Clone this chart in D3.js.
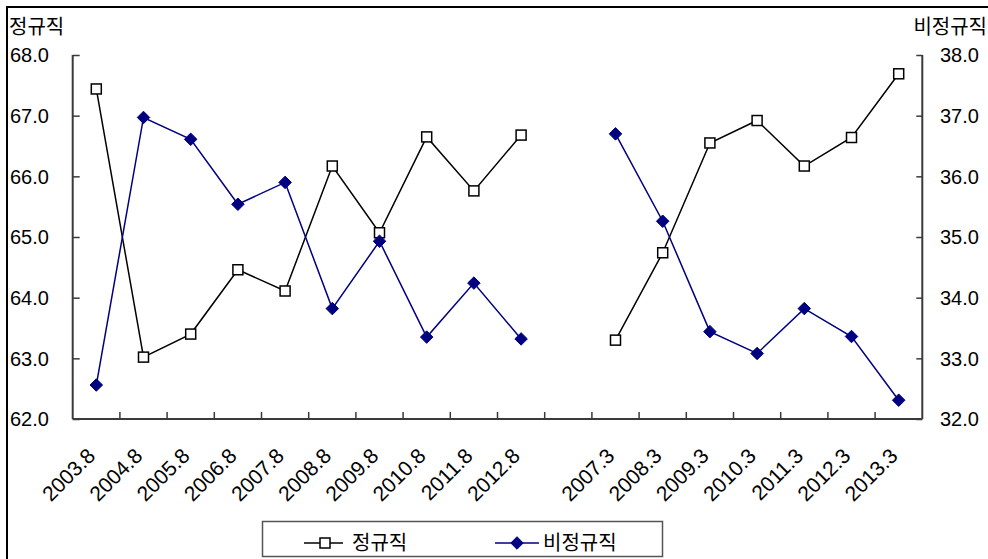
<!DOCTYPE html>
<html>
<head>
<meta charset="utf-8">
<script src="https://cdn.jsdelivr.net/npm/d3@7"></script>
<style>
  html, body { margin: 0; padding: 0; background: #fff; }
  svg { display: block; }
  text { font-family: "Liberation Sans", Arial, "Noto Sans CJK KR", sans-serif; fill: #000; }
  .kr { font-family: "Noto Sans CJK KR", "Liberation Sans", sans-serif; }
</style>
</head>
<body>
<svg id="chart" width="988" height="559"></svg>
<script>
// Survey periods: August series, a blank slot, then the March series
const categories = ["2003.8", "2004.8", "2005.8", "2006.8", "2007.8", "2008.8", "2009.8",
  "2010.8", "2011.8", "2012.8", "", "2007.3", "2008.3", "2009.3", "2010.3", "2011.3",
  "2012.3", "2013.3"];

// 정규직 share (%), left axis
const regular = [67.44, 63.02, 63.40, 64.46, 64.11, 66.17, 65.07, 66.65, 65.76, 66.68,
  null, 63.30, 64.74, 66.55, 66.92, 66.17, 66.64, 67.69];

// 비정규직 share (%), right axis
const nonRegular = [32.56, 36.97, 36.61, 35.54, 35.90, 33.82, 34.93, 33.35, 34.24, 33.32,
  null, 36.70, 35.26, 33.44, 33.08, 33.82, 33.36, 32.31];

const leftTicks = [62, 63, 64, 65, 66, 67, 68];
const rightTicks = [32, 33, 34, 35, 36, 37, 38];
const seriesNames = ["정규직", "비정규직"];

const svg = d3.select("#chart");
const plot = { left: 72.7, right: 922.3, top: 55, bottom: 419 };
const axisColor = "#3a3a3a";
const blue = "#000080";
const numSize = 20;
const krSize = 20;

// outer frame (left and top edges visible)
svg.append("path")
  .attr("d", "M7,559 L7,7 L988,7")
  .attr("fill", "none").attr("stroke", "#000").attr("stroke-width", 2);

const x = d3.scaleBand().domain(d3.range(categories.length))
  .range([plot.left, plot.right]).padding(0);
const yL = d3.scaleLinear().domain([62, 68]).range([plot.bottom, plot.top]);
const yR = d3.scaleLinear().domain([32, 38]).range([plot.bottom, plot.top]);

// left axis: ticks point into the plot
const gL = svg.append("g").attr("transform", `translate(${plot.left},0)`)
  .call(d3.axisRight(yL).tickValues(leftTicks).tickSize(7).tickFormat(""));
gL.select(".domain").remove();
gL.selectAll("line").attr("stroke", axisColor).attr("stroke-width", 1.5);
svg.append("line").attr("x1", plot.left).attr("x2", plot.left)
  .attr("y1", plot.top).attr("y2", plot.bottom)
  .attr("stroke", axisColor).attr("stroke-width", 2);
svg.selectAll(".ylab").data(leftTicks).join("text")
  .attr("x", 10).attr("y", d => yL(d)).attr("dy", "0.36em")
  .attr("font-size", numSize).text(d => d.toFixed(1));

// right axis: ticks point into the plot
const gR = svg.append("g").attr("transform", `translate(${plot.right},0)`)
  .call(d3.axisLeft(yR).tickValues(rightTicks).tickSize(6).tickFormat(""));
gR.select(".domain").remove();
gR.selectAll("line").attr("stroke", axisColor).attr("stroke-width", 1.5);
svg.append("line").attr("x1", plot.right).attr("x2", plot.right)
  .attr("y1", plot.top).attr("y2", plot.bottom)
  .attr("stroke", axisColor).attr("stroke-width", 2);
svg.selectAll(".yrlab").data(rightTicks).join("text")
  .attr("x", 940).attr("y", d => yR(d)).attr("dy", "0.36em")
  .attr("font-size", numSize).text(d => d.toFixed(1));

// axis titles
svg.append("text").attr("class", "kr").attr("x", 9).attr("y", 34)
  .attr("font-size", krSize).text(seriesNames[0]);
svg.append("text").attr("class", "kr").attr("x", 987).attr("y", 34)
  .attr("text-anchor", "end").attr("font-size", krSize).text(seriesNames[1]);

// x axis: tick marks at category boundaries, pointing up
const boundaries = d3.range(1, categories.length).map(i => x(i));
svg.selectAll(".xtick").data(boundaries).join("line")
  .attr("x1", d => d).attr("x2", d => d)
  .attr("y1", plot.bottom).attr("y2", plot.bottom - 7)
  .attr("stroke", axisColor).attr("stroke-width", 1.5);
svg.append("line").attr("x1", plot.left).attr("x2", plot.right)
  .attr("y1", plot.bottom).attr("y2", plot.bottom)
  .attr("stroke", axisColor).attr("stroke-width", 2);

const cx = i => x(i) + x.bandwidth() / 2;
svg.selectAll(".xlab").data(categories.map((c, i) => ({ c, i })).filter(d => d.c))
  .join("text")
  .attr("transform", d => `translate(${cx(d.i) - 5},${plot.bottom + 33}) rotate(-45)`)
  .attr("text-anchor", "end").attr("dy", "0.35em")
  .attr("font-size", 21).text(d => d.c);

// series lines (broken at the empty slot)
const lineL = d3.line().defined(d => d.v != null).x(d => cx(d.i)).y(d => yL(d.v));
const lineR = d3.line().defined(d => d.v != null).x(d => cx(d.i)).y(d => yR(d.v));
const regData = regular.map((v, i) => ({ v, i }));
const nonData = nonRegular.map((v, i) => ({ v, i }));

svg.append("path").datum(regData).attr("d", lineL)
  .attr("fill", "none").attr("stroke", "#000").attr("stroke-width", 1.5);
svg.append("path").datum(nonData).attr("d", lineR)
  .attr("fill", "none").attr("stroke", blue).attr("stroke-width", 1.5);

// markers
const sq = 10;
svg.selectAll(".sq").data(regData.filter(d => d.v != null)).join("rect")
  .attr("x", d => cx(d.i) - sq / 2).attr("y", d => yL(d.v) - sq / 2)
  .attr("width", sq).attr("height", sq)
  .attr("fill", "#fff").attr("stroke", "#000").attr("stroke-width", 1.5);

const diamond = d3.symbol().type(d3.symbolDiamond2).size(100);
svg.selectAll(".dm").data(nonData.filter(d => d.v != null)).join("path")
  .attr("transform", d => `translate(${cx(d.i)},${yR(d.v)})`)
  .attr("d", diamond).attr("fill", blue).attr("stroke", blue).attr("stroke-width", 1);

// legend
const lg = svg.append("g");
lg.append("rect").attr("x", 262.5).attr("y", 521.5).attr("width", 400).attr("height", 35)
  .attr("fill", "#fff").attr("stroke", "#555").attr("stroke-width", 1.5);
const ly = 543;
lg.append("line").attr("x1", 304).attr("x2", 343).attr("y1", ly).attr("y2", ly)
  .attr("stroke", "#000").attr("stroke-width", 1.5);
lg.append("rect").attr("x", 325 - sq / 2).attr("y", ly - sq / 2).attr("width", sq).attr("height", sq)
  .attr("fill", "#fff").attr("stroke", "#000").attr("stroke-width", 1.5);
lg.append("text").attr("class", "kr").attr("x", 352).attr("y", ly).attr("dy", "0.36em")
  .attr("font-size", krSize).text(seriesNames[0]);
lg.append("line").attr("x1", 495).attr("x2", 539).attr("y1", ly).attr("y2", ly)
  .attr("stroke", blue).attr("stroke-width", 1.5);
lg.append("path").attr("transform", `translate(517,${ly})`).attr("d", diamond)
  .attr("fill", blue).attr("stroke", blue).attr("stroke-width", 1);
lg.append("text").attr("class", "kr").attr("x", 543).attr("y", ly).attr("dy", "0.36em")
  .attr("font-size", krSize).text(seriesNames[1]);
</script>
</body>
</html>
